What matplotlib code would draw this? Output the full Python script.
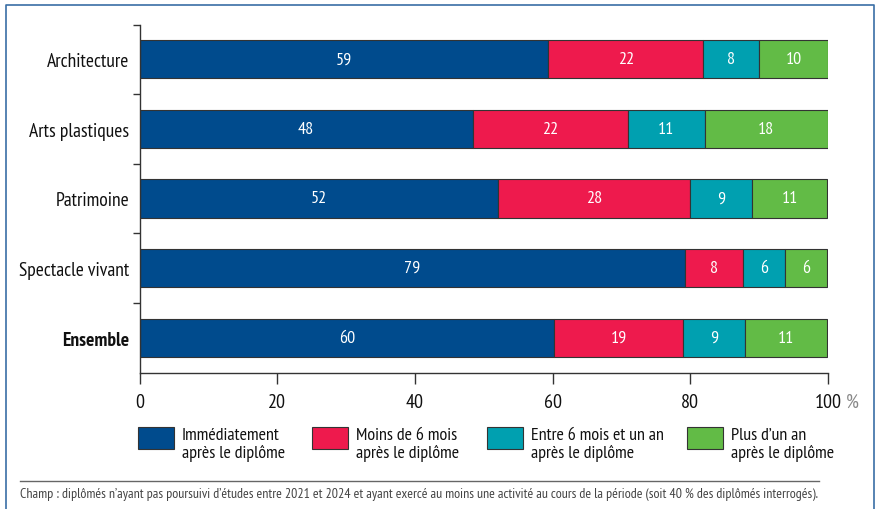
import matplotlib
matplotlib.use("Agg")
import matplotlib.pyplot as plt
from matplotlib.patches import Rectangle
from matplotlib.lines import Line2D
import numpy as np

categories = ["Architecture", "Arts plastiques", "Patrimoine", "Spectacle vivant", "Ensemble"]
series_names = ["Immédiatement\naprès le diplôme", "Moins de 6 mois\naprès le diplôme",
                "Entre 6 mois et un an\naprès le diplôme", "Plus d\u2019un an\naprès le diplôme"]
immediat = [59.4, 48.4, 52.0, 79.3, 60.2]
moins6 = [22.5, 22.5, 28.0, 8.4, 18.8]
entre6_12 = [8.1, 11.2, 9.0, 6.1, 9.0]
plus1an = [10.0, 17.9, 10.9, 6.1, 11.8]
labels_immediat = [59, 48, 52, 79, 60]
labels_moins6 = [22, 22, 28, 8, 19]
labels_entre = [8, 11, 9, 6, 9]
labels_plus = [10, 18, 11, 6, 11]
xticks = [0, 20, 40, 60, 80, 100]

colors = ["#004B8D", "#EE1A4D", "#00A0B0", "#62BB46"]
plt.rcParams['font.family'] = ['PT Sans Narrow', 'Roboto Condensed', 'DejaVu Sans']

fig = plt.figure(figsize=(8.76, 5.10), dpi=100)
W, H = 876, 510
ax = fig.add_axes([139.5 / W, 1 - 373.5 / H, (828 - 139.5) / W, (373.5 - 25.5) / H])

series = [immediat, moins6, entre6_12, plus1an]
labels = [labels_immediat, labels_moins6, labels_entre, labels_plus]
y = np.arange(len(categories))
left = np.zeros(len(categories))
for vals, labs, c in zip(series, labels, colors):
    vals = np.array(vals)
    bars = ax.barh(y, vals, left=left, height=0.55, color=c, edgecolor="#333333", linewidth=0.8)
    ax.bar_label(bars, labels=[str(v) for v in labs], label_type="center", color="white", fontsize=13)
    left = left + vals

ax.set_xlim(0, 100)
ax.set_ylim(len(categories) - 0.5, -0.5)
ax.set_yticks(y)
ax.set_yticklabels(categories, fontsize=14, color="#111111")
for lbl in ax.get_yticklabels():
    if lbl.get_text() == "Ensemble":
        lbl.set_fontweight("bold")
ax.tick_params(axis="y", which="major", length=0, pad=7.5)
ax.set_yticks(np.arange(-0.5, len(categories) - 0.5, 1), minor=True)
ax.tick_params(axis="y", which="minor", length=5, width=1, color="#333333")
ax.set_xticks(xticks)
ax.set_xticklabels([str(t) for t in xticks], fontsize=14.5, color="#111111")
ax.tick_params(axis="x", length=8, width=1, color="#333333", pad=7)
for s in ["top", "right"]:
    ax.spines[s].set_visible(False)
for s in ["left", "bottom"]:
    ax.spines[s].set_color("#333333")
    ax.spines[s].set_linewidth(1)
ax.text(102.6, -0.085, "%", transform=ax.get_xaxis_transform(), fontsize=14.5, color="#888888",
        va="center", ha="left", fontstyle="italic")

# legend
leg_x = [138, 312, 487, 687]
for name, c, lx in zip(series_names, colors, leg_x):
    fig.patches.append(Rectangle((lx / W, 1 - 450 / H), 36 / W, 22 / H, transform=fig.transFigure,
                                 facecolor=c, edgecolor="#333333", linewidth=0.8))
    fig.text((lx + 44) / W, 1 - 445 / H, name, fontsize=13, va="center", ha="left",
             color="#111111", linespacing=1.1)

fig.add_artist(Line2D([20 / W, 819 / W], [1 - 482 / H, 1 - 482 / H], color="#666666", linewidth=1))
fig.text(20 / W, 1 - 495 / H,
         "Champ : diplômés n\u2019ayant pas poursuivi d\u2019études entre 2021 et 2024 et ayant exercé au moins une activité au cours de la période (soit 40 % des diplômés interrogés).",
         fontsize=10, color="#444444", va="center", ha="left")

# frame
fc = "#3A6EA5"
fig.add_artist(Line2D([6 / W, 6 / W, 874 / W, 874 / W], [0, 1 - 5.5 / H, 1 - 5.5 / H, 0],
                      color=fc, linewidth=1.2))

fig.savefig("out.png", dpi=100)
